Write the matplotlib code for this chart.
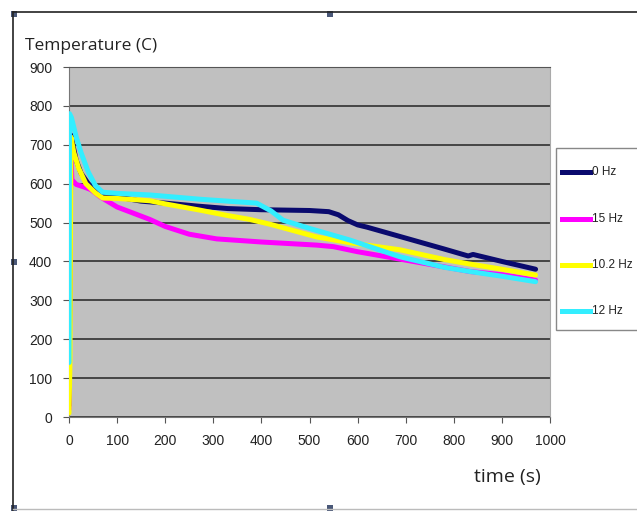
import matplotlib.pyplot as plt
from matplotlib.lines import Line2D
from matplotlib.patches import Rectangle

# data
t_0hz = [0, 4, 8, 15, 25, 40, 60, 80, 100, 150, 200, 270, 330, 400, 450, 500, 540, 560, 580, 600, 620, 700, 780, 830, 840, 900, 970]
T_0hz = [30, 725, 700, 660, 627, 600, 578, 570, 566, 555, 550, 542, 536, 533, 532, 531, 528, 520, 505, 494, 488, 460, 432, 414, 418, 400, 380]

t_15hz = [0, 3, 6, 15, 30, 45, 65, 100, 168, 200, 250, 307, 400, 515, 550, 600, 688, 780, 834, 900, 970]
T_15hz = [20, 700, 610, 598, 592, 585, 566, 540, 508, 490, 470, 458, 450, 442, 438, 425, 406, 386, 374, 366, 352]

t_102hz = [0, 2, 4, 10, 20, 35, 55, 70, 100, 168, 200, 272, 330, 376, 420, 515, 584, 688, 780, 830, 900, 970]
T_102hz = [10, 140, 720, 680, 640, 600, 576, 563, 562, 556, 548, 532, 518, 508, 495, 463, 448, 430, 405, 394, 380, 365]

t_12hz = [0, 1, 5, 15, 25, 40, 55, 70, 100, 168, 272, 330, 390, 420, 445, 500, 584, 688, 780, 834, 900, 970]
T_12hz = [140, 780, 770, 720, 680, 630, 595, 578, 575, 571, 560, 555, 550, 530, 506, 485, 455, 412, 385, 374, 362, 348]

series = [
    ('0 Hz', t_0hz, T_0hz, '#0a0a6e'),
    ('15 Hz', t_15hz, T_15hz, '#ff00ff'),
    ('10.2 Hz', t_102hz, T_102hz, '#ffff00'),
    ('12 Hz', t_12hz, T_12hz, '#33eeff'),
]

narrow = ['Liberation Sans', 'DejaVu Sans']

fig = plt.figure(figsize=(6.37, 5.11), dpi=100)
ax = fig.add_axes([69/637, 1-417/511, 481/637, 350/511])
ax.set_facecolor('#c0c0c0')

for name, t, T, c in series:
    ax.plot(t, T, color=c, lw=3.6, label=name, solid_capstyle='round', zorder=3)

ax.set_xlim(0, 1000)
ax.set_ylim(0, 900)
ax.set_xticks(range(0, 1001, 100))
ax.set_yticks(range(0, 901, 100))
ax.yaxis.grid(True, color='#303030', lw=1.2)
ax.set_axisbelow(True)
for lab in ax.get_xticklabels() + ax.get_yticklabels():
    lab.set_family(narrow)
    lab.set_fontsize(10)
    lab.set_color('#222222')
ax.tick_params(direction='out', length=4, color='#555555', pad=8)
for s in ['left', 'bottom']:
    ax.spines[s].set_color('#777777')
ax.spines['top'].set_color('#555555')
ax.spines['right'].set_color('#aaaaaa')

fig.text(25/637, 1-46/511, 'Temperature (C)', fontsize=12.5, family='Open Sans', va='center', color='#222222')
fig.text(474/637, 1-477/511, 'time (s)', fontsize=14, family='Open Sans', va='center', color='#222222')

# legend box
fig.add_artist(Rectangle((556/637, 1-330/511), 90/637, 182/511, transform=fig.transFigure,
                         facecolor='white', edgecolor='#888888', lw=1))
ys = [172, 219, 265, 311]
for (name, t, T, c), y in zip(series, ys):
    yf = 1 - y/511
    fig.add_artist(Line2D([562/637, 590/637], [yf, yf], color=c, lw=3.6, transform=fig.transFigure))
    fig.text(592/637, yf, name, family=narrow, fontsize=8.5, va='center', color='#222222')

# page frame and handles
fig.add_artist(Line2D([13/637, 13/637], [0, 1-12/511], color='#222222', lw=1.2, transform=fig.transFigure))
fig.add_artist(Line2D([13/637, 1], [1-12/511, 1-12/511], color='#222222', lw=1.2, transform=fig.transFigure))
fig.add_artist(Line2D([13/637, 1], [1-509/511, 1-509/511], color='#bbbbbb', lw=1, transform=fig.transFigure))
for hx, hy in [(14, 14), (330, 14), (14, 262), (14, 508), (330, 508)]:
    fig.add_artist(Rectangle(((hx-3)/637, 1-(hy+3)/511), 6/637, 6/511, transform=fig.transFigure,
                             facecolor='#4a5878', edgecolor='none'))

fig.savefig('out.png', dpi=100)
